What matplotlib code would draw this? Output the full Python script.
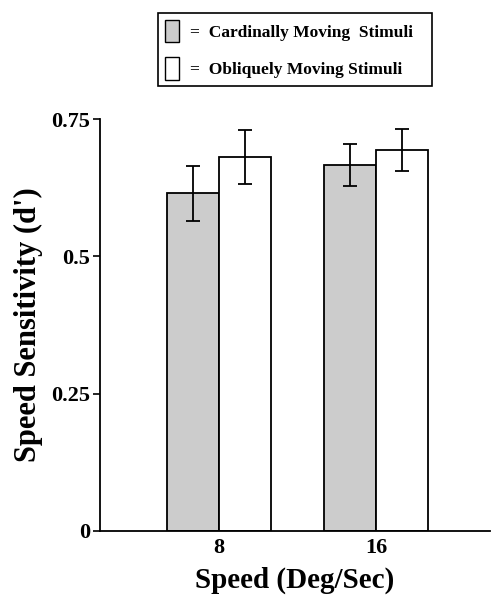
import numpy as np
import matplotlib.pyplot as plt
from matplotlib.patches import Patch

speeds = ['8', '16']
cardinal = [0.615, 0.666]
cardinal_err = [0.050, 0.038]
oblique = [0.681, 0.694]
oblique_err = [0.049, 0.038]
yticks = [0, 0.25, 0.5, 0.75]
ytick_labels = ['0', '0.25', '0.5', '0.75']

plt.rcParams['font.family'] = 'Liberation Serif'
plt.rcParams['font.weight'] = 'bold'

fig = plt.figure(figsize=(4.91, 5.95), dpi=100)
ax = fig.add_axes([0.2037, 0.1076, 0.794, 0.6924])

x = np.arange(len(speeds))
w = 0.331
gray = '#cccccc'
ax.bar(x - w/2, cardinal, w, color=gray, edgecolor='black', linewidth=1.3,
       yerr=cardinal_err, error_kw=dict(ecolor='black', elinewidth=1.3, capsize=5, capthick=1.3))
ax.bar(x + w/2, oblique, w, color='white', edgecolor='black', linewidth=1.3,
       yerr=oblique_err, error_kw=dict(ecolor='black', elinewidth=1.3, capsize=5, capthick=1.3))

ax.set_xlim(-0.758, 1.726)
ax.set_ylim(0, 0.75)
ax.set_xticks(x)
ax.set_xticklabels(speeds, fontsize=16, fontweight='bold')
ax.set_yticks(yticks)
ax.set_yticklabels(ytick_labels, fontsize=16, fontweight='bold')
ax.tick_params(axis='x', length=0, pad=5)
ax.tick_params(axis='y', length=5, width=1.2, pad=2)
ax.spines['top'].set_visible(False)
ax.spines['right'].set_visible(False)
ax.spines['left'].set_linewidth(1.3)
ax.spines['bottom'].set_linewidth(1.3)

ax.set_ylabel("Speed Sensitivity (d')", fontsize=22, fontweight='bold', labelpad=6)
ax.set_xlabel('Speed (Deg/Sec)', fontsize=21, fontweight='bold', labelpad=6)

handles = [Patch(facecolor=gray, edgecolor='black', linewidth=1),
           Patch(facecolor='white', edgecolor='black', linewidth=1)]
labels = ['=  Cardinally Moving  Stimuli   ', '=  Obliquely Moving Stimuli']
leg = fig.legend(handles, labels, loc='upper left', bbox_to_anchor=(0.305, 0.992),
                 fancybox=False, edgecolor='black', framealpha=1,
                 handlelength=0.85, handleheight=1.65, handletextpad=0.6,
                 borderpad=0.35, labelspacing=0.85,
                 prop={'family': 'Liberation Serif', 'weight': 'bold', 'size': 12.5})
leg.get_frame().set_linewidth(1.2)

fig.savefig('out.png', dpi=100)
